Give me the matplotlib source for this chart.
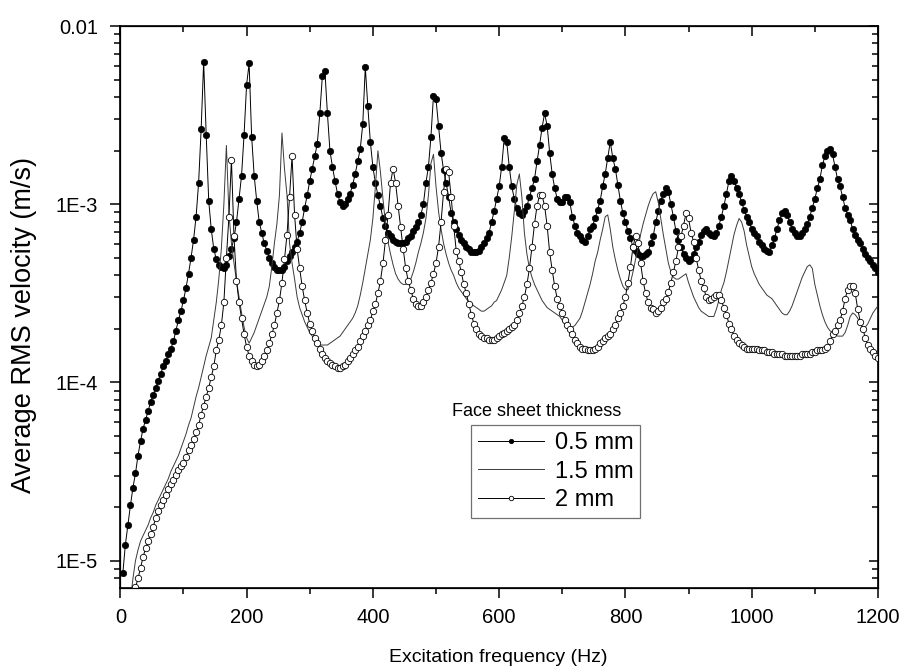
import numpy as np
import matplotlib
matplotlib.use('Agg')
import matplotlib.pyplot as plt
from matplotlib.ticker import FixedLocator, LogLocator, MultipleLocator, NullFormatter, FuncFormatter

plt.rcParams['font.family'] = ['Liberation Sans', 'DejaVu Sans']

# excitation frequency grids (Hz), 4 Hz step
freq_05 = np.arange(4, 1201, 4)
freq_15 = np.arange(16, 1201, 4)
freq_2 = np.arange(24, 1201, 4)

# log10 of average RMS velocity (m/s)
log_v_05 = [
    -5.07, -4.91, -4.80, -4.69, -4.59, -4.51, -4.41, -4.33, -4.26, -4.21,
    -4.16, -4.11, -4.07, -4.03, -3.99, -3.95, -3.91, -3.88, -3.84, -3.81,
    -3.77, -3.71, -3.65, -3.60, -3.54, -3.47, -3.39, -3.30, -3.20, -3.07,
    -2.88, -2.58, -2.20, -2.61, -2.98, -3.14, -3.25, -3.31, -3.34, -3.35,
    -3.36, -3.34, -3.29, -3.25, -3.19, -3.10, -2.97, -2.84, -2.61, -2.33,
    -2.21, -2.62, -2.84, -2.98, -3.10, -3.16, -3.22, -3.26, -3.30, -3.33,
    -3.35, -3.37, -3.37, -3.37, -3.35, -3.32, -3.29, -3.27, -3.24, -3.21,
    -3.16, -3.10, -3.02, -2.95, -2.87, -2.80, -2.73, -2.66, -2.49, -2.28,
    -2.25, -2.49, -2.70, -2.79, -2.87, -2.94, -2.99, -3.01, -3.00, -2.97,
    -2.94, -2.89, -2.83, -2.76, -2.69, -2.55, -2.23, -2.45, -2.65, -2.79,
    -2.88, -2.95, -3.01, -3.08, -3.12, -3.16, -3.18, -3.20, -3.21, -3.22,
    -3.22, -3.22, -3.21, -3.19, -3.18, -3.15, -3.13, -3.10, -3.06, -3.00,
    -2.88, -2.79, -2.62, -2.39, -2.41, -2.56, -2.71, -2.81, -2.88, -2.96,
    -3.05, -3.10, -3.14, -3.17, -3.20, -3.22, -3.24, -3.25, -3.27, -3.27,
    -3.27, -3.26, -3.24, -3.22, -3.19, -3.16, -3.10, -3.04, -2.97, -2.90,
    -2.79, -2.63, -2.65, -2.79, -2.90, -2.97, -3.02, -3.05, -3.06, -3.04,
    -3.01, -2.96, -2.91, -2.86, -2.76, -2.67, -2.57, -2.49, -2.56, -2.71,
    -2.83, -2.91, -2.97, -2.99, -2.99, -2.96, -2.96, -2.99, -3.07, -3.12,
    -3.16, -3.18, -3.20, -3.21, -3.18, -3.14, -3.12, -3.08, -3.03, -2.98,
    -2.90, -2.83, -2.74, -2.65, -2.74, -2.80, -2.89, -2.98, -3.05, -3.10,
    -3.15, -3.19, -3.24, -3.26, -3.28, -3.29, -3.29, -3.28, -3.27, -3.22,
    -3.18, -3.10, -3.04, -2.98, -2.94, -2.91, -2.93, -3.00, -3.07, -3.15,
    -3.20, -3.24, -3.28, -3.30, -3.32, -3.31, -3.28, -3.24, -3.21, -3.17,
    -3.15, -3.14, -3.16, -3.17, -3.18, -3.16, -3.12, -3.07, -3.01, -2.94,
    -2.87, -2.84, -2.87, -2.91, -2.94, -2.99, -3.03, -3.07, -3.10, -3.14,
    -3.16, -3.18, -3.21, -3.23, -3.25, -3.26, -3.27, -3.23, -3.19, -3.14,
    -3.09, -3.05, -3.04, -3.06, -3.10, -3.14, -3.16, -3.18, -3.18, -3.16,
    -3.14, -3.11, -3.07, -3.02, -2.97, -2.91, -2.86, -2.78, -2.73, -2.70,
    -2.69, -2.72, -2.79, -2.86, -2.90, -2.96, -3.02, -3.06, -3.09, -3.14,
    -3.17, -3.20, -3.22, -3.25, -3.28, -3.30, -3.32, -3.34, -3.36, -3.38,
]

log_v_15 = [
    -5.22, -5.10, -5.00, -4.94, -4.89, -4.86, -4.83,
    -4.80, -4.76, -4.73, -4.69, -4.66, -4.63, -4.60, -4.57, -4.54, -4.50,
    -4.47, -4.44, -4.41, -4.37, -4.33, -4.29, -4.24, -4.20, -4.14, -4.08,
    -4.03, -3.97, -3.91, -3.85, -3.80, -3.75, -3.65, -3.55, -3.42, -3.25,
    -3.00, -2.67, -3.05, -3.22, -3.33, -3.43, -3.52, -3.61, -3.69, -3.75,
    -3.78, -3.75, -3.72, -3.68, -3.64, -3.60, -3.56, -3.52, -3.46, -3.35,
    -3.22, -3.11, -2.95, -2.60, -2.80, -2.95, -3.22, -3.33, -3.42, -3.52,
    -3.58, -3.62, -3.66, -3.69, -3.72, -3.74, -3.76, -3.78, -3.79, -3.79,
    -3.79, -3.79, -3.78, -3.77, -3.76, -3.75, -3.74, -3.72, -3.70, -3.68,
    -3.66, -3.64, -3.61, -3.57, -3.51, -3.44, -3.36, -3.28, -3.20, -3.08,
    -2.90, -2.70, -2.82, -2.97, -3.11, -3.21, -3.28, -3.34, -3.39, -3.42,
    -3.44, -3.45, -3.45, -3.44, -3.42, -3.38, -3.33, -3.27, -3.22, -3.16,
    -3.08, -2.95, -2.77, -2.72, -2.90, -3.04, -3.14, -3.22, -3.28, -3.33,
    -3.37, -3.40, -3.44, -3.47, -3.49, -3.51, -3.53, -3.55, -3.56, -3.57,
    -3.58, -3.59, -3.60, -3.60, -3.59, -3.58, -3.57, -3.55, -3.54, -3.51,
    -3.48, -3.44, -3.40, -3.30, -3.18, -3.04, -2.89, -2.83, -2.96, -3.16,
    -3.28, -3.36, -3.41, -3.45, -3.48, -3.51, -3.54, -3.56, -3.58, -3.59,
    -3.60, -3.61, -3.62, -3.63, -3.65, -3.67, -3.68, -3.69, -3.69, -3.68,
    -3.66, -3.64, -3.60, -3.55, -3.50, -3.45, -3.39, -3.32, -3.27, -3.20,
    -3.14, -3.07, -3.06, -3.14, -3.24, -3.31, -3.37, -3.42, -3.46, -3.48,
    -3.48, -3.44, -3.38, -3.31, -3.25, -3.17, -3.11, -3.06, -3.01, -2.97,
    -2.94, -2.93, -2.99, -3.08, -3.17, -3.25, -3.33, -3.38, -3.41, -3.42,
    -3.42, -3.41, -3.40, -3.39, -3.44, -3.48, -3.52, -3.55, -3.58, -3.60,
    -3.61, -3.62, -3.63, -3.63, -3.63, -3.59, -3.54, -3.48, -3.44, -3.38,
    -3.31, -3.24, -3.17, -3.12, -3.08, -3.10, -3.15, -3.23, -3.29, -3.35,
    -3.39, -3.42, -3.45, -3.47, -3.49, -3.51, -3.52, -3.53, -3.55, -3.57,
    -3.59, -3.61, -3.62, -3.62, -3.60, -3.57, -3.53, -3.49, -3.45, -3.41,
    -3.38, -3.35, -3.34, -3.36, -3.45, -3.51, -3.57, -3.62, -3.66, -3.69,
    -3.71, -3.72, -3.73, -3.74, -3.74, -3.74, -3.72, -3.68, -3.63, -3.61,
    -3.62, -3.64, -3.67, -3.69, -3.69, -3.67, -3.64, -3.61, -3.59, -3.57,
]

log_v_2 = [
    -5.15, -5.10, -5.04, -4.98, -4.93,
    -4.89, -4.85, -4.81, -4.76, -4.72, -4.69, -4.66, -4.63, -4.60, -4.57,
    -4.55, -4.52, -4.49, -4.47, -4.45, -4.42, -4.38, -4.35, -4.32, -4.28,
    -4.24, -4.18, -4.13, -4.08, -4.03, -3.97, -3.91, -3.82, -3.76, -3.68,
    -3.55, -3.30, -3.07, -2.75, -3.18, -3.43, -3.55, -3.64, -3.73, -3.80,
    -3.85, -3.88, -3.90, -3.91, -3.90, -3.88, -3.85, -3.82, -3.78, -3.73,
    -3.68, -3.61, -3.54, -3.44, -3.31, -3.17, -2.96, -2.73, -3.06, -3.25,
    -3.36, -3.46, -3.54, -3.61, -3.67, -3.71, -3.75, -3.78, -3.81, -3.84,
    -3.86, -3.88, -3.89, -3.90, -3.91, -3.92, -3.92, -3.91, -3.90, -3.88,
    -3.86, -3.84, -3.82, -3.80, -3.77, -3.74, -3.71, -3.68, -3.65, -3.60,
    -3.56, -3.50, -3.43, -3.33, -3.20, -3.06, -2.88, -2.80, -2.88, -3.01,
    -3.13, -3.25, -3.36, -3.43, -3.48, -3.53, -3.56, -3.57, -3.57, -3.55,
    -3.52, -3.48, -3.44, -3.39, -3.33, -3.24, -3.10, -2.93, -2.80, -2.82,
    -2.96, -3.12, -3.26, -3.32, -3.38, -3.45, -3.50, -3.56, -3.62, -3.67,
    -3.70, -3.73, -3.74, -3.75, -3.75, -3.76, -3.76, -3.76, -3.75, -3.74,
    -3.73, -3.72, -3.71, -3.70, -3.69, -3.68, -3.65, -3.61, -3.57, -3.52,
    -3.45, -3.36, -3.24, -3.11, -3.01, -2.95, -2.95, -3.01, -3.12, -3.27,
    -3.37, -3.46, -3.53, -3.57, -3.61, -3.65, -3.68, -3.70, -3.73, -3.76,
    -3.78, -3.80, -3.81, -3.81, -3.82, -3.82, -3.82, -3.81, -3.80, -3.78,
    -3.77, -3.75, -3.74, -3.73, -3.70, -3.68, -3.64, -3.61, -3.57, -3.52,
    -3.44, -3.35, -3.24, -3.18, -3.22, -3.33, -3.43, -3.50, -3.55, -3.58,
    -3.59, -3.61, -3.60, -3.58, -3.55, -3.53, -3.49, -3.44, -3.38, -3.32,
    -3.24, -3.18, -3.12, -3.05, -3.08, -3.16, -3.21, -3.30, -3.37, -3.43,
    -3.47, -3.52, -3.54, -3.53, -3.52, -3.51, -3.51, -3.54, -3.58, -3.62,
    -3.67, -3.70, -3.74, -3.76, -3.78, -3.79, -3.80, -3.81, -3.81, -3.81,
    -3.81, -3.81, -3.82, -3.82, -3.82, -3.83, -3.83, -3.83, -3.84, -3.84,
    -3.84, -3.84, -3.85, -3.85, -3.85, -3.85, -3.85, -3.85, -3.85, -3.84,
    -3.84, -3.84, -3.84, -3.83, -3.83, -3.82, -3.82, -3.82, -3.81, -3.80,
    -3.77, -3.73, -3.71, -3.68, -3.65, -3.60, -3.53, -3.48, -3.46, -3.46,
    -3.50, -3.59, -3.66, -3.70, -3.75, -3.79, -3.81, -3.83, -3.85, -3.86,
]

series_labels = ['0.5 mm', '1.5 mm', '2 mm']
x_ticks = [0, 200, 400, 600, 800, 1000, 1200]
y_ticks = [1e-5, 1e-4, 1e-3, 1e-2]
y_tick_labels = ['1E-5', '1E-4', '1E-3', '0.01']

v_05 = 10.0 ** np.array(log_v_05)
v_15 = 10.0 ** np.array(log_v_15)
v_2 = 10.0 ** np.array(log_v_2)

fig = plt.figure(figsize=(9.04, 6.72), dpi=100)
ax = fig.add_axes([0.1331, 0.1254, 0.8381, 0.8359])

ax.plot(freq_05, v_05, color='black', lw=0.7, marker='o', ms=4.6,
        mfc='black', mec='black', mew=0.5, label=series_labels[0], zorder=3)
ax.plot(freq_15, v_15, color='#3a3a3a', lw=0.7, label=series_labels[1], zorder=4)
ax.plot(freq_2, v_2, color='black', lw=0.7, marker='o', ms=4.6,
        mfc='white', mec='black', mew=0.6, label=series_labels[2], zorder=5)

ax.set_yscale('log')
ax.set_xlim(0, 1200)
ax.set_ylim(7.05e-6, 1e-2)

ylab = dict(zip(y_ticks, y_tick_labels))


def fmt_y(v, pos):
    for k, s in ylab.items():
        if abs(v / k - 1) < 1e-6:
            return s
    return ''


ax.xaxis.set_major_locator(FixedLocator(x_ticks))
ax.xaxis.set_minor_locator(MultipleLocator(100))
ax.yaxis.set_major_locator(FixedLocator(y_ticks))
ax.yaxis.set_major_formatter(FuncFormatter(fmt_y))
ax.yaxis.set_minor_locator(LogLocator(base=10, subs=np.arange(2, 10), numticks=20))
ax.yaxis.set_minor_formatter(NullFormatter())

ax.tick_params(which='major', direction='out', length=7.5, width=1.1, labelsize=14.5)
ax.tick_params(which='minor', direction='out', length=4.5, width=1.1)
ax.tick_params(axis='x', which='major', pad=7)
ax.tick_params(axis='y', which='major', pad=8.5)
for s in ax.spines.values():
    s.set_linewidth(1.2)

# mirrored axes: ticks pointing inwards on top and right
axt = ax.twiny()
axt.set_xlim(0, 1200)
axt.xaxis.set_major_locator(FixedLocator(x_ticks))
axt.xaxis.set_minor_locator(MultipleLocator(100))
axt.tick_params(which='major', direction='in', length=7.5, width=1.1, labeltop=False)
axt.tick_params(which='minor', direction='in', length=4.5, width=1.1)

axr = ax.twinx()
axr.set_yscale('log')
axr.set_ylim(7.05e-6, 1e-2)
axr.yaxis.set_major_locator(FixedLocator(y_ticks))
axr.yaxis.set_minor_locator(LogLocator(base=10, subs=np.arange(2, 10), numticks=20))
axr.yaxis.set_major_formatter(NullFormatter())
axr.yaxis.set_minor_formatter(NullFormatter())
axr.tick_params(which='major', direction='in', length=6.5, width=1.1, labelright=False)
axr.tick_params(which='minor', direction='in', length=4, width=1.1)

fig.text(24 / 904, 1 - 325 / 672, 'Average RMS velocity (m/s)', rotation=90,
         ha='center', va='center', fontsize=19.5)
fig.text(498 / 904, 1 - 657 / 672, 'Excitation frequency (Hz)',
         ha='center', va='center', fontsize=14)
fig.text(537 / 904, 1 - 411 / 672, 'Face sheet thickness',
         ha='center', va='center', fontsize=13)

leg = axr.legend(*ax.get_legend_handles_labels(), loc='lower left',
                 bbox_to_anchor=(470.7 / 904, 1 - 518.3 / 672),
                 bbox_transform=fig.transFigure, borderaxespad=0,
                 fancybox=False, framealpha=1, edgecolor='#707070',
                 fontsize=17, handlelength=2.8, handletextpad=0.46,
                 borderpad=0.3, labelspacing=0.28, markerscale=0.7)
leg.get_frame().set_linewidth(0.9)

fig.savefig('out.png', dpi=100)
